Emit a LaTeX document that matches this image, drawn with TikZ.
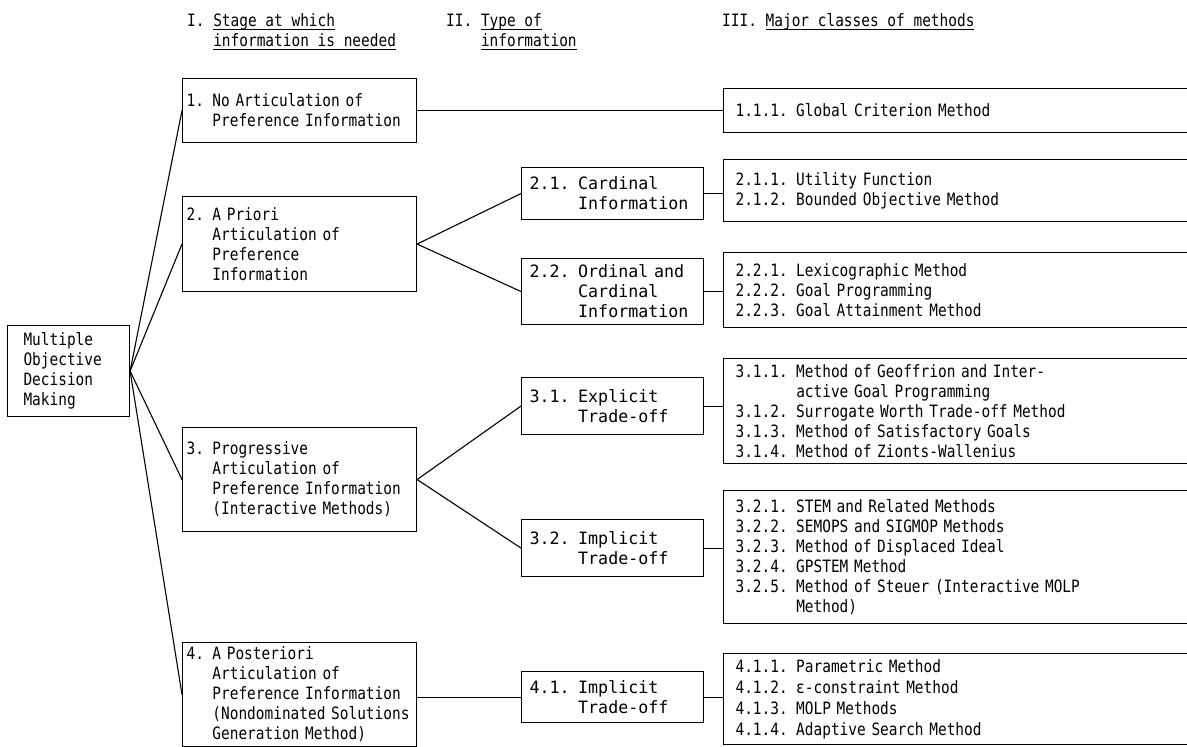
\documentclass[tikz,border=0pt]{standalone}
\usepackage{fontspec}
\newfontfamily\monofont[FakeStretch=0.85]{DejaVu Sans Mono}
\newfontfamily\widemonofont[FakeStretch=0.98]{DejaVu Sans Mono}
% underlined heading text
\newcommand\ulin[1]{\setbox0\hbox{#1}\rlap{\rule[-3.5pt]{\wd0}{0.9pt}}\box0}
% hanging indent equal to a label's width
\newcommand\ind[1]{\hphantom{#1}}

\begin{document}
\begin{tikzpicture}[x=1pt,y=-1pt,
  txt/.style={font=\monofont\fontsize{17}{20}\selectfont},
  box/.style={txt, draw, line width=1.1pt, rectangle, anchor=north west,
    align=left, inner ysep=0pt},
  stage/.style={box, inner xsep=4pt, text width=226pt},
  kind/.style={box, font=\widemonofont\fontsize{17}{20}\selectfont,
    inner xsep=8pt, text width=166pt},
  method/.style={box, inner xsep=12pt, text width=448pt},
  head/.style={txt, anchor=north west, align=left, inner sep=0pt},
  link/.style={line width=1.1pt}]

\useasboundingbox (0,0) rectangle (1187,747);
\begin{scope}
\clip (0,0) rectangle (1187,747);

% column headings
\node[head] (h1) at (187,13) {I. \ulin{Stage at which}\\\ind{I. }\ulin{information is needed}};
\node[head] (h2) at (446,13) {II. \ulin{Type of}\\\ind{II. }\ulin{information}};
\node[head] (h3) at (722,13) {III. \ulin{Major classes of methods}};

% root
\node[box, inner xsep=16pt, text width=90pt, minimum height=91pt] (mod) at (7,325)
  {Multiple\\Objective\\Decision\\Making};

% I. stage at which information is needed
\node[stage, minimum height=64pt] (p1) at (182,78)
  {1. No Articulation of\\\ind{1. }Preference Information};
\node[stage, minimum height=95pt] (p2) at (182,196)
  {2. A Priori\\\ind{2. }Articulation of\\\ind{2. }Preference\\\ind{2. }Information};
\node[stage, minimum height=104pt] (p3) at (182,427)
  {3. Progressive\\\ind{3. }Articulation of\\\ind{3. }Preference Information\\\ind{3. }(Interactive Methods)};
\node[stage, minimum height=104pt] (p4) at (182,642)
  {4. A Posteriori\\\ind{4. }Articulation of\\\ind{4. }Preference Information\\\ind{4. }(Nondominated Solutions\\\ind{4. }Generation Method)};

% II. type of information
\node[kind, minimum height=52pt] (q21) at (521,167)
  {2.1. Cardinal\\\ind{2.1. }Information};
\node[kind, minimum height=66pt] (q22) at (521,258)
  {2.2. Ordinal and\\\ind{2.2. }Cardinal\\\ind{2.2. }Information};
\node[kind, minimum height=57pt] (q31) at (521,377)
  {3.1. Explicit\\\ind{3.1. }Trade-off};
\node[kind, minimum height=57pt] (q32) at (521,519)
  {3.2. Implicit\\\ind{3.2. }Trade-off};
\node[kind, minimum height=51pt] (q41) at (521,671)
  {4.1. Implicit\\\ind{4.1. }Trade-off};

% III. major classes of methods
\node[method, minimum height=44pt] (r11) at (723,88)
  {1.1.1. Global Criterion Method};
\node[method, minimum height=62pt] (r21) at (723,159)
  {2.1.1. Utility Function\\2.1.2. Bounded Objective Method};
\node[method, minimum height=75pt] (r22) at (723,252)
  {2.2.1. Lexicographic Method\\2.2.2. Goal Programming\\2.2.3. Goal Attainment Method};
\node[method, minimum height=105pt] (r31) at (723,358)
  {3.1.1. Method of Geoffrion and Inter-\\\ind{3.1.1. }active Goal Programming\\3.1.2. Surrogate Worth Trade-off Method\\3.1.3. Method of Satisfactory Goals\\3.1.4. Method of Zionts-Wallenius};
\node[method, minimum height=133pt] (r32) at (723,490)
  {3.2.1. STEM and Related Methods\\3.2.2. SEMOPS and SIGMOP Methods\\3.2.3. Method of Displaced Ideal\\3.2.4. GPSTEM Method\\3.2.5. Method of Steuer (Interactive MOLP\\\ind{3.2.5. }Method)};
\node[method, minimum height=91pt, font=\monofont\fontsize{17}{21}\selectfont] (r41) at (723,653)
  {4.1.1. Parametric Method\\4.1.2. ε-constraint Method\\4.1.3. MOLP Methods\\4.1.4. Adaptive Search Method};

% connectors
\foreach \p in {p1,p2,p3,p4} \draw[link] (mod.east) -- (\p.west);
\draw[link] (p1.east) -- (r11.west |- p1.east);
\draw[link] (p2.east) -- (q21.west);
\draw[link] (p2.east) -- (q22.west);
\draw[link] (p3.east) -- (q31.west);
\draw[link] (p3.east) -- (q32.west);
\draw[link] (p4.east |- q41.west) -- (q41.west);
\draw[link] (q21.east) -- (r21.west |- q21.east);
\draw[link] (q22.east) -- (r22.west |- q22.east);
\draw[link] (q31.east) -- (r31.west |- q31.east);
\draw[link] (q32.east) -- (r32.west |- q32.east);
\draw[link] (q41.east) -- (r41.west |- q41.east);
\end{scope}
\end{tikzpicture}
\end{document}
